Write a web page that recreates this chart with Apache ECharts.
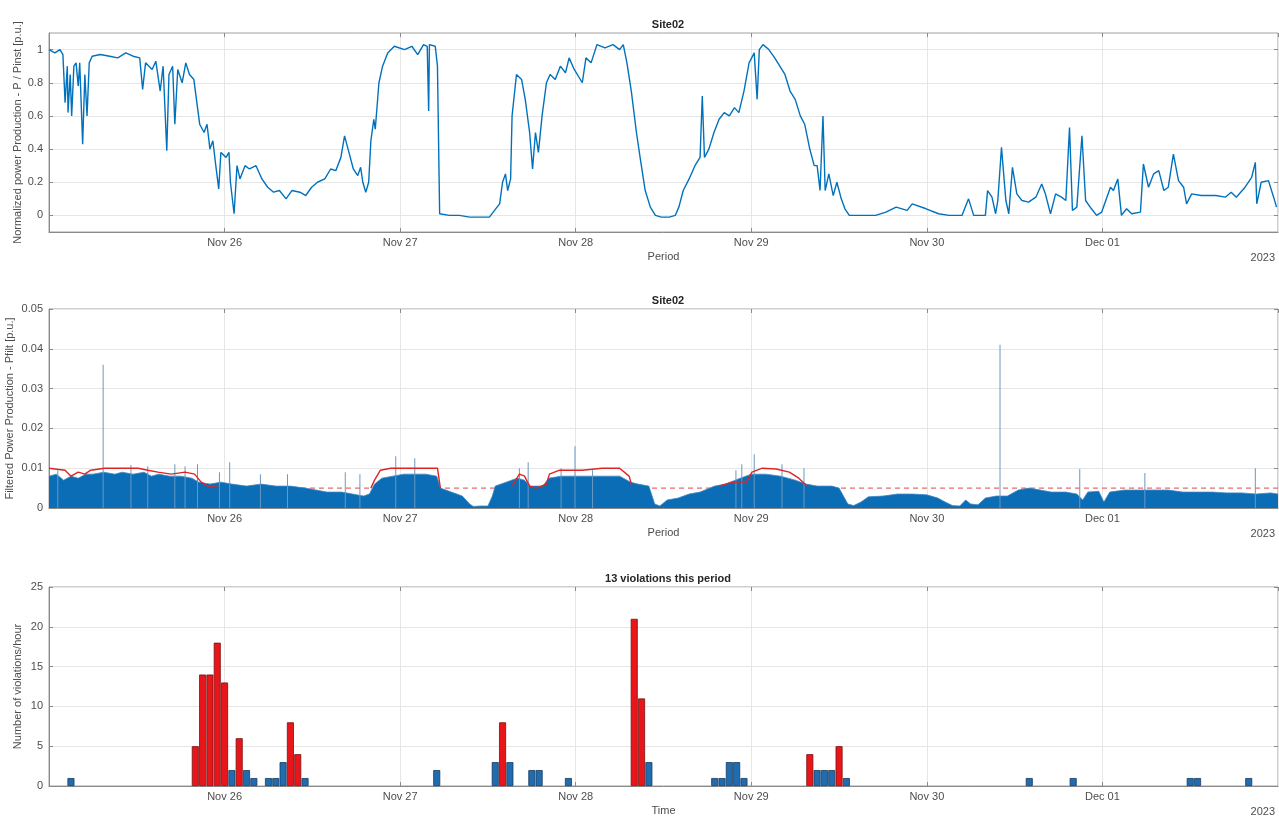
<!DOCTYPE html>
<html><head><meta charset="utf-8">
<script src="https://cdn.jsdelivr.net/npm/echarts@6/dist/echarts.min.js"></script>
<style>html,body{margin:0;padding:0;background:#fff}#c{width:1279px;height:819px}</style>
</head><body><div id="c"></div>
<script>
// x values are hours since 2023-11-25 00:00
const dayLabels = ['Nov 25','Nov 26','Nov 27','Nov 28','Nov 29','Nov 30','Dec 01','Dec 02'];
const yearLabel = '2023';

// Panel 1: normalized power production
const prodHours = [0,0.8,1.5,1.9,2.2,2.5,2.6,2.9,3.1,3.4,3.7,4.0,4.2,4.6,4.9,5.2,5.5,5.9,7.0,8.3,9.4,10.5,11.5,12.4,12.8,13.2,14.1,14.6,15.2,15.6,16.1,16.4,16.9,17.2,17.6,18.2,18.7,19.2,19.8,20.3,20.6,21.2,21.6,22.0,22.4,22.8,23.2,23.5,24.2,24.6,24.8,25.3,25.7,26.1,26.8,27.4,28.3,29.1,29.9,30.7,31.5,32.4,33.2,34.3,35.1,35.9,36.7,37.7,38.5,39.2,39.9,40.4,41.0,41.6,42.2,42.6,42.9,43.3,43.7,44.0,44.4,44.6,45.1,45.6,46.3,47.2,48.6,49.6,50.4,51.2,51.7,51.9,52.0,52.8,53.1,53.4,54.7,56.1,57.5,58.8,60.2,60.9,61.6,62.0,62.4,62.7,63.1,63.3,63.9,64.6,65.1,65.7,66.1,66.5,66.9,67.4,68.0,68.5,69.2,69.9,70.6,71.1,71.8,72.9,73.4,74.1,74.9,76.0,77.1,78.0,78.5,79.0,79.6,80.3,80.8,81.5,82.2,82.9,83.7,84.8,85.6,86.1,86.7,87.5,88.3,89.0,89.3,89.6,90.2,90.9,91.6,92.3,93.0,93.7,94.3,95.0,95.7,96.4,96.8,97.1,97.6,98.4,99.2,99.9,100.6,101.3,102.0,102.7,103.3,104.0,104.6,105.0,105.4,105.8,106.1,106.6,107.2,107.7,108.3,108.8,109.4,113.0,114.4,115.8,117.3,118.0,119.9,121.6,123.0,124.8,125.7,126.4,128.0,128.3,128.9,129.4,129.7,130.2,130.8,131.2,131.7,132.3,133.0,133.9,134.9,135.7,136.2,136.9,137.6,138.4,139.0,139.5,139.9,140.5,141.2,141.7,142.5,143.2,143.9,145.1,145.5,146.1,146.6,147.3,148.0,149.2,149.6,150.3,151.0,151.7,152.4,153.0,153.7,154.4,155.1,155.5,156.2,157.5,159.5,160.8,161.6,162.3,163.5,164.4,164.9,165.1,165.7,166.7,167.4,167.8];
const prodValues = [1.0,0.98,1.0,0.97,0.68,0.9,0.62,0.85,0.6,0.9,0.92,0.78,0.92,0.43,0.85,0.6,0.92,0.96,0.97,0.96,0.95,0.98,0.96,0.95,0.76,0.92,0.88,0.93,0.75,0.9,0.39,0.85,0.9,0.55,0.88,0.8,0.92,0.85,0.82,0.65,0.55,0.5,0.55,0.4,0.45,0.3,0.16,0.38,0.35,0.38,0.2,0.01,0.3,0.22,0.3,0.28,0.3,0.22,0.17,0.14,0.15,0.1,0.15,0.14,0.12,0.17,0.2,0.22,0.28,0.27,0.35,0.48,0.38,0.28,0.24,0.29,0.2,0.14,0.2,0.45,0.58,0.52,0.8,0.9,0.98,1.02,1.0,1.02,0.97,1.03,1.02,0.63,1.03,1.02,0.9,0.01,0.0,0.0,-0.01,-0.01,-0.01,0.03,0.07,0.2,0.25,0.15,0.22,0.6,0.85,0.82,0.7,0.5,0.28,0.5,0.38,0.6,0.8,0.85,0.82,0.9,0.86,0.95,0.88,0.8,0.95,0.92,1.03,1.01,1.03,1.0,1.03,0.92,0.75,0.5,0.35,0.15,0.05,0.0,-0.01,-0.01,0.0,0.05,0.15,0.22,0.3,0.35,0.72,0.35,0.4,0.5,0.58,0.62,0.6,0.65,0.62,0.75,0.92,0.98,0.7,1.0,1.03,1.0,0.95,0.9,0.85,0.75,0.7,0.6,0.55,0.4,0.3,0.3,0.15,0.6,0.15,0.25,0.12,0.2,0.1,0.04,0.0,0.0,0.02,0.05,0.03,0.07,0.04,0.01,0.0,0.0,0.1,0.0,0.0,0.15,0.11,0.01,0.09,0.41,0.09,0.01,0.29,0.13,0.09,0.08,0.11,0.19,0.13,0.01,0.13,0.11,0.09,0.53,0.03,0.05,0.48,0.09,0.04,0.0,0.02,0.17,0.15,0.22,0.0,0.04,0.01,0.02,0.31,0.17,0.25,0.27,0.15,0.17,0.37,0.21,0.17,0.07,0.13,0.12,0.12,0.11,0.14,0.11,0.17,0.23,0.32,0.07,0.2,0.21,0.11,0.05];

// Panel 2: filtered power production (envelope of the dense fill)
const filtHours = [0,1,2,3,4,5,6,7.5,9,10,11.5,13,14,15,16.5,18,19.5,20.5,22,23.5,25,27,29,31,33,35,36.5,38,40,41.5,43,43.8,44.5,45.5,47,48.5,50,51.5,53,53.5,55,56.5,57.5,58,59,60,60.6,61,62.5,64,65,65.8,67.5,68.3,70,72,74,76,78,79.5,80.5,82,82.8,83.5,84.5,86,87.5,89,91,92.5,94.5,96,98,100,102,103.5,105,107,108,109.2,110,111,112,114,116,118,120,121.5,122.5,123.5,124.5,125.3,126,127,128,129.5,131,132.5,134,135.5,137,139,140.5,141.3,142,143.5,144.2,145,147,149,151,153,155,157,159,161,163,165,167,168];
const filtValues = [0.008,0.0085,0.007,0.008,0.0075,0.0085,0.0085,0.009,0.0085,0.009,0.0085,0.009,0.008,0.0085,0.008,0.008,0.0075,0.0065,0.006,0.0065,0.006,0.0055,0.006,0.0055,0.0055,0.005,0.0045,0.004,0.004,0.0035,0.003,0.0035,0.006,0.0075,0.008,0.0085,0.0085,0.0085,0.008,0.005,0.004,0.003,0.001,0.0004,0.0005,0.0005,0.003,0.0055,0.0065,0.0075,0.007,0.0055,0.0055,0.0075,0.008,0.008,0.008,0.008,0.008,0.0065,0.006,0.0055,0.001,0.0005,0.002,0.0025,0.0035,0.004,0.0055,0.006,0.0075,0.0085,0.0085,0.008,0.007,0.006,0.0055,0.0055,0.005,0.001,0.0006,0.0015,0.0028,0.003,0.0035,0.0035,0.0033,0.0025,0.0015,0.0006,0.0005,0.002,0.001,0.0008,0.0025,0.003,0.003,0.0045,0.005,0.0045,0.004,0.004,0.0035,0.002,0.004,0.0042,0.0015,0.004,0.0045,0.0045,0.0045,0.0045,0.004,0.004,0.004,0.0038,0.0038,0.0035,0.0038,0.0035];
// isolated spikes in the filtered signal
const spikeHours = [1.2,7.4,11.2,13.5,17.2,18.6,20.3,23.3,24.7,28.9,32.6,40.5,42.5,47.4,50.0,64.3,65.5,70.0,71.9,74.3,93.9,94.7,96.4,100.2,103.2,130.0,140.9,149.8,164.9];
const spikeValues = [0.0095,0.036,0.0108,0.0105,0.011,0.0105,0.011,0.009,0.0115,0.0085,0.0085,0.009,0.0085,0.013,0.0125,0.01,0.0115,0.01,0.0155,0.0095,0.0095,0.011,0.0135,0.011,0.01,0.041,0.0098,0.0088,0.01];
// adaptive limit (solid red), null = at base limit
const limitHours = [0,2.2,3.0,4.0,4.9,5.7,7.6,12.2,13.5,14.9,16.7,18.6,19.9,20.8,21.7,23.1,23.2,
  44.0,44.5,45.3,46.7,53.1,53.5,53.6,
  63.3,64.3,65.0,65.7,66.6,68.0,68.4,69.8,72.9,75.6,78.0,79.3,79.7,79.8,
  91.6,93.4,95.3,96.1,97.5,99.4,101.2,102.5,103.6];
const limitValues = [0.010,0.0095,0.008,0.009,0.0085,0.0095,0.010,0.010,0.0095,0.009,0.0085,0.009,0.0085,0.0065,0.0055,0.0055,null,
  0.005,0.007,0.0095,0.010,0.010,0.005,null,
  0.0055,0.0085,0.008,0.0055,0.005,0.006,0.0085,0.0095,0.0095,0.010,0.010,0.008,0.0055,null,
  0.0055,0.0065,0.0065,0.009,0.010,0.0098,0.009,0.0075,0.0055];
const baseLimit = 0.005;

// Panel 3: violations per hour
const redHours = [20,21,22,23,24,26,33,34,62,80,81,104,108];
const redCounts = [5,14,14,18,13,6,8,4,8,21,11,4,5];
const blueHours = [3,25,27,28,30,31,32,35,53,61,63,66,67,71,82,91,92,93,94,95,105,106,107,109,134,140,156,157,164];
const blueCounts = [1,2,2,1,1,1,3,1,2,3,3,2,2,1,3,1,1,3,3,1,2,2,2,1,1,1,1,1,1];

const titles = ['Site02','Site02','13 violations this period'];
const yNames = ['Normalized power Production - P / Pinst [p.u.]','Filtered Power Production - Pfilt [p.u.]','Number of violations/hour'];
const xNames = ['Period','Period','Time'];

const zip = (a,b) => a.map((h,i)=>[h,b[i]]);
const FONT = '"Liberation Sans", Arial, sans-serif';
const TXT = '#4d4d4d';
const tops = [33,309,587];
const H = 199;
const yNameX = [18,10,18];

const chart = echarts.init(document.getElementById('c'));
const grids = tops.map(t => ({left:49,right:1,top:t,height:H,show:true,borderColor:'#a0a0a0',borderWidth:1,containLabel:false,outerBoundsMode:'none'}));

const tickStyle = {show:true,inside:true,length:4,lineStyle:{color:'#8a8a8a'}};
const xAxes = [];
[0,1,2].forEach(i => {
  xAxes.push({
    type:'value', gridIndex:i, min:0, max:168, interval:24,
    name:xNames[i], nameLocation:'middle', nameGap:19,
    nameTextStyle:{fontFamily:FONT,fontSize:11,color:TXT},
    axisLine:{show:true,onZero:false,lineStyle:{color:'#8a8a8a'}},
    axisTick:tickStyle,
    axisLabel:{showMinLabel:false,showMaxLabel:false,fontFamily:FONT,fontSize:11,color:TXT,margin:5,
      formatter:v=>dayLabels[Math.round(v/24)]},
    splitLine:{show:true,lineStyle:{color:'#e6e6e6',width:1}}
  });
});
[0,1,2].forEach(i => {
  xAxes.push({type:'value', gridIndex:i, position:'top', min:0, max:168, interval:24,
    axisLine:{show:false,onZero:false}, axisTick:tickStyle, axisLabel:{show:false}, splitLine:{show:false}});
});

const yCommon = {
  axisLine:{show:true,onZero:false,lineStyle:{color:'#8a8a8a'}},
  axisTick:tickStyle,
  axisLabel:{fontFamily:FONT,fontSize:11,color:TXT,margin:6},
  splitLine:{show:true,lineStyle:{color:'#e6e6e6',width:1}}
};
const p1Ticks = [0,0.2,0.4,0.6,0.8,1];
const yAxes = [
  Object.assign({}, yCommon, {type:'value',gridIndex:0,min:-0.1,max:1.1,
    axisTick:Object.assign({}, tickStyle, {customValues:p1Ticks}),
    axisLabel:Object.assign({}, yCommon.axisLabel, {customValues:p1Ticks})}),
  Object.assign({}, yCommon, {type:'value',gridIndex:1,min:0,max:0.05,interval:0.01}),
  Object.assign({}, yCommon, {type:'value',gridIndex:2,min:0,max:25,interval:5}),
  {type:'value',gridIndex:0,position:'right',min:-0.1,max:1.1,axisLine:{show:false,onZero:false},
    axisTick:Object.assign({}, tickStyle, {customValues:p1Ticks}),axisLabel:{show:false},splitLine:{show:false}},
  {type:'value',gridIndex:1,position:'right',min:0,max:0.05,interval:0.01,axisLine:{show:false,onZero:false},
    axisTick:tickStyle,axisLabel:{show:false},splitLine:{show:false}},
  {type:'value',gridIndex:2,position:'right',min:0,max:25,interval:5,axisLine:{show:false,onZero:false},
    axisTick:tickStyle,axisLabel:{show:false},splitLine:{show:false}}
];

const graphics = [];
tops.forEach((t,i) => {
  graphics.push({type:'text',right:4,top:t+H+20,style:{text:yearLabel,font:'11px '+FONT,fill:TXT}});
  graphics.push({type:'text',x:yNameX[i],y:t+H/2,rotation:Math.PI/2,
    style:{text:yNames[i],font:'11px '+FONT,fill:TXT,align:'center',verticalAlign:'middle'}});
});

const option = {
  animation:false,
  backgroundColor:'#fff',
  title: titles.map((t,i)=>({text:t,left:663,textAlign:'center',top:tops[i]-19,
    textStyle:{fontFamily:FONT,fontSize:11,fontWeight:'bold',color:'#262626'}})),
  grid: grids,
  xAxis: xAxes,
  yAxis: yAxes,
  graphic: graphics,
  series: [
    {type:'line',xAxisIndex:0,yAxisIndex:0,data:zip(prodHours,prodValues),showSymbol:false,
      lineStyle:{color:'#0072BD',width:1.4},itemStyle:{color:'#0072BD'},z:3},
    {type:'line',xAxisIndex:1,yAxisIndex:1,data:[[0,baseLimit],[168,baseLimit]],showSymbol:false,
      lineStyle:{color:'#e0474c',width:1,type:[5,4]},z:1},
    {type:'line',xAxisIndex:1,yAxisIndex:1,data:zip(filtHours,filtValues),showSymbol:false,
      lineStyle:{color:'#3f86c4',width:0.8},areaStyle:{color:'#0a6db5',opacity:1},z:2},
    {type:'bar',xAxisIndex:1,yAxisIndex:1,data:zip(spikeHours,spikeValues),barWidth:1,
      itemStyle:{color:'#6a98c2'},z:3},
    {type:'line',xAxisIndex:1,yAxisIndex:1,data:zip(limitHours,limitValues),showSymbol:false,connectNulls:false,
      lineStyle:{color:'#e02424',width:1.4},z:4},
    {type:'bar',xAxisIndex:2,yAxisIndex:2,data:zip(blueHours,blueCounts),barWidth:7,barGap:'-100%',
      itemStyle:{color:'#1f6db0',borderColor:'#1c3a5c',borderWidth:0.8},z:3},
    {type:'bar',xAxisIndex:2,yAxisIndex:2,data:zip(redHours,redCounts),barWidth:7,barGap:'-100%',
      itemStyle:{color:'#e8161b',borderColor:'#7a1010',borderWidth:0.8},z:3}
  ]
};
chart.setOption(option);
</script>
</body></html>
